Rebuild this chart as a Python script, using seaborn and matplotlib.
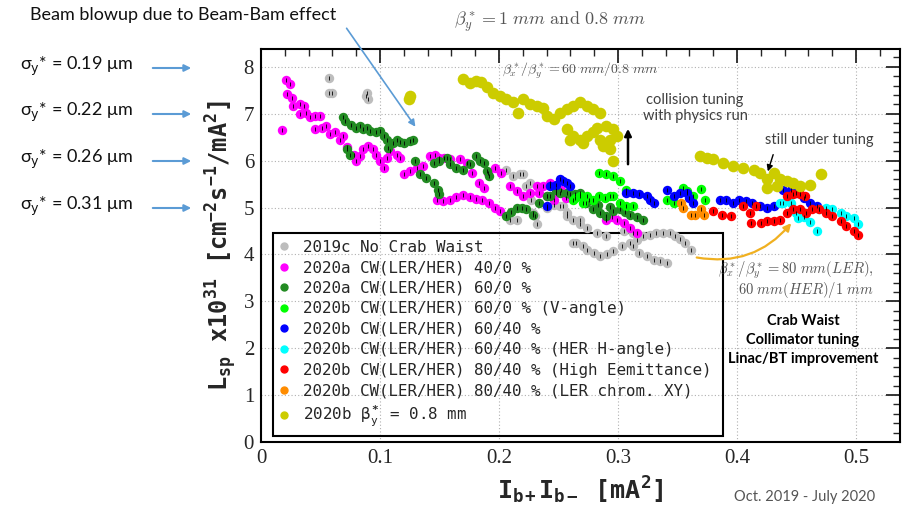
import numpy as np
import pandas as pd
import matplotlib
matplotlib.use("Agg")
import matplotlib.pyplot as plt
import seaborn as sns
from matplotlib.lines import Line2D
from matplotlib.patches import Rectangle
from matplotlib.font_manager import FontProperties
from matplotlib.ticker import MultipleLocator

# ---------------- data ----------------
labels = [
    "2019c No Crab Waist",
    "2020a CW(LER/HER) 40/0 %",
    "2020a CW(LER/HER) 60/0 %",
    "2020b CW(LER/HER) 60/0 % (V-angle)",
    "2020b CW(LER/HER) 60/40 %",
    "2020b CW(LER/HER) 60/40 % (HER H-angle)",
    "2020b CW(LER/HER) 80/40 % (High Eemittance)",
    "2020b CW(LER/HER) 80/40 % (LER chrom. XY)",
    r"2020b β$_y^*$ = 0.8 mm",
]
colors = ["#bdbdbd", "#ff00ff", "#228b22", "#00ff00", "#0000ff",
          "#00ffff", "#ff0000", "#ff8c00", "#cccc00"]

gray_x = [0.057, 0.057, 0.060, 0.089, 0.090, 0.088,
          0.206, 0.212, 0.218, 0.220, 0.223, 0.226, 0.227, 0.229, 0.230, 0.232, 0.209, 0.215,
          0.240, 0.246, 0.251, 0.254, 0.257, 0.257, 0.262, 0.268, 0.268, 0.274, 0.282, 0.290,
          0.262, 0.265, 0.271, 0.274, 0.280, 0.285, 0.291, 0.296, 0.303, 0.310, 0.316, 0.321,
          0.327, 0.332, 0.338, 0.344, 0.348, 0.352, 0.356, 0.361,
          0.313, 0.318, 0.324, 0.330, 0.335, 0.341, 0.305, 0.313]
gray_y = [7.77, 7.45, 7.45, 7.45, 7.31, 7.38,
          5.81, 5.67, 5.71, 5.71, 5.46, 5.53, 5.17, 4.89, 4.81, 4.64, 4.74, 4.74,
          5.00, 5.06, 5.03, 5.03, 4.89, 4.81, 4.74, 4.74, 4.64, 4.57, 4.46, 4.39,
          4.24, 4.24, 4.17, 4.10, 4.03, 3.96, 4.00, 4.07, 4.17, 4.24, 4.31, 4.39,
          4.42, 4.46, 4.46, 4.46, 4.39, 4.32, 4.24, 4.10,
          4.17, 4.03, 3.96, 3.89, 3.85, 3.82, 4.50, 4.46]

mag_x = [0.018, 0.021, 0.024, 0.022, 0.026, 0.027, 0.033, 0.036, 0.033, 0.038, 0.041, 0.045,
         0.050, 0.045, 0.051, 0.055, 0.058, 0.062, 0.066, 0.069, 0.072, 0.078, 0.080, 0.083,
         0.086, 0.090, 0.094, 0.097, 0.100, 0.103, 0.106, 0.108, 0.114, 0.117,
         0.120, 0.125, 0.131, 0.136, 0.142, 0.146, 0.150, 0.154, 0.159, 0.167, 0.173, 0.177,
         0.183, 0.187, 0.191, 0.197, 0.202, 0.209, 0.215, 0.220, 0.226, 0.232, 0.237, 0.243,
         0.248, 0.234, 0.240, 0.246,
         0.148, 0.153, 0.159, 0.164, 0.170, 0.176, 0.181, 0.186, 0.192, 0.197, 0.201,
         0.252, 0.256, 0.290, 0.295, 0.299, 0.305, 0.310, 0.316]
mag_y = [6.65, 7.72, 7.63, 7.41, 7.34, 7.16, 7.20, 7.17, 6.99, 7.02, 6.92, 6.95,
         6.95, 6.67, 6.70, 6.74, 6.56, 6.60, 6.45, 6.52, 6.30, 6.13, 5.99, 6.10,
         6.24, 6.31, 6.24, 6.13, 5.99, 5.85, 6.06, 6.20, 6.13, 6.06,
         5.71, 5.78, 5.85, 5.88, 6.10, 6.13, 6.06, 6.06, 6.04, 6.03, 5.95, 5.74,
         5.53, 5.42, 5.74, 5.85, 5.74, 5.46, 5.35, 5.24, 5.31, 5.46, 5.46, 5.53,
         5.31, 5.31, 5.24, 5.17,
         5.17, 5.13, 5.17, 5.22, 5.26, 5.22, 5.19, 5.15, 5.10, 5.00, 4.92,
         5.38, 5.20, 4.74, 4.80, 4.74, 4.67, 4.57, 4.46]

grn_x = [0.069, 0.071, 0.076, 0.080, 0.083, 0.086, 0.089, 0.092, 0.097, 0.100, 0.103, 0.106,
         0.072, 0.075, 0.107, 0.111, 0.114, 0.117, 0.120, 0.125, 0.128,
         0.129, 0.134, 0.139, 0.145, 0.149, 0.150,
         0.145, 0.150, 0.156, 0.159, 0.164, 0.170, 0.176, 0.181, 0.184, 0.187, 0.190, 0.192,
         0.206, 0.210, 0.215, 0.219, 0.223, 0.229, 0.234, 0.240, 0.243, 0.248, 0.251, 0.257,
         0.260, 0.264, 0.268, 0.273, 0.276, 0.279, 0.285, 0.290, 0.296, 0.302, 0.306, 0.310,
         0.316, 0.321, 0.283, 0.293]
grn_y = [6.94, 6.85, 6.77, 6.70, 6.74, 6.67, 6.70, 6.63, 6.60, 6.63, 6.52, 6.45,
         6.24, 6.13, 6.27, 6.38, 6.45, 6.40, 6.38, 6.42, 6.45,
         5.99, 5.71, 5.63, 5.53, 5.38, 5.28,
         5.95, 5.99, 6.06, 5.92, 5.85, 5.81, 5.92, 6.10, 6.00, 5.95, 5.78, 5.67,
         4.81, 4.90, 4.99, 5.00, 4.96, 4.85, 5.10, 5.24, 5.24, 5.38, 5.31, 5.31,
         5.28, 5.28, 5.31, 5.10, 5.17, 4.96, 4.89, 4.81, 4.92, 4.96, 4.90, 4.85,
         4.80, 4.74, 5.05, 5.02]

lime_x = [0.262, 0.264, 0.268, 0.271, 0.274, 0.279, 0.284, 0.289, 0.293, 0.296, 0.302, 0.307,
          0.313, 0.284, 0.290, 0.296, 0.302, 0.307, 0.341, 0.347, 0.355, 0.358, 0.363, 0.370,
          0.373]
lime_y = [5.17, 5.21, 5.24, 5.10, 5.24, 5.17, 5.24, 5.20, 5.24, 5.24, 5.10, 5.03,
          5.03, 5.74, 5.71, 5.67, 5.56, 5.38, 5.17, 5.10, 5.42, 5.35, 5.24, 5.40,
          5.17]

blue_x = [0.240, 0.243, 0.248, 0.254, 0.257, 0.260, 0.251,
          0.307, 0.313, 0.318, 0.324, 0.330, 0.327,
          0.341, 0.347, 0.352, 0.358, 0.363, 0.360,
          0.386, 0.391, 0.397, 0.402, 0.408, 0.413, 0.419, 0.425, 0.431, 0.439, 0.445, 0.450,
          0.456, 0.461, 0.467]
blue_y = [5.03, 5.46, 5.49, 5.56, 5.53, 5.46, 5.60,
          5.31, 5.31, 5.28, 5.24, 5.10, 5.17,
          5.38, 5.24, 5.31, 5.31, 5.10, 5.20,
          5.17, 5.17, 5.10, 5.17, 5.14, 5.10, 5.03, 4.99, 5.03, 5.38, 5.38, 5.31,
          5.21, 5.10, 5.03]

cyan_x = [0.436, 0.439, 0.445, 0.450, 0.451, 0.456, 0.461, 0.467, 0.469, 0.475, 0.480, 0.487,
          0.492, 0.498, 0.502]
cyan_y = [5.10, 5.10, 5.10, 4.89, 4.78, 4.80, 4.70, 4.49, 4.96, 4.98, 4.96, 4.89,
          4.81, 4.78, 4.64]

red_x = [0.380, 0.387, 0.395, 0.405, 0.411, 0.412, 0.416, 0.420, 0.425, 0.431, 0.436, 0.442,
         0.447, 0.453, 0.458, 0.442, 0.447, 0.453, 0.457, 0.463, 0.469, 0.475, 0.480, 0.487,
         0.492, 0.498, 0.502]
red_y = [4.92, 4.85, 4.81, 5.03, 4.89, 4.67, 5.03, 4.67, 4.71, 4.71, 4.74, 4.89,
         4.96, 4.96, 4.89, 5.24, 5.28, 5.28, 5.24, 4.96, 4.96, 4.89, 4.81, 4.71,
         4.60, 4.49, 4.42]

orng_x = [0.353, 0.355, 0.361, 0.365, 0.370, 0.372]
orng_y = [5.10, 4.99, 4.85, 4.85, 4.96, 4.85]

yel_x = [0.124, 0.125,
         0.170, 0.176, 0.181, 0.185, 0.190, 0.195, 0.201, 0.206, 0.212, 0.216, 0.220, 0.226,
         0.232, 0.237, 0.240, 0.246, 0.251, 0.257, 0.262, 0.268, 0.274, 0.279, 0.285, 0.290,
         0.296, 0.299, 0.293, 0.287, 0.293, 0.296, 0.279, 0.274, 0.268, 0.262, 0.257, 0.260,
         0.271, 0.285, 0.282,
         0.369, 0.375, 0.380, 0.388, 0.397, 0.405, 0.414, 0.419, 0.425, 0.431, 0.436, 0.442,
         0.447, 0.453, 0.461, 0.471, 0.425, 0.434]
yel_y = [7.31, 7.38,
         7.73, 7.65, 7.70, 7.67, 7.56, 7.45, 7.38, 7.31, 7.24, 7.02, 7.31, 7.20,
         7.17, 7.13, 6.95, 6.88, 7.02, 7.09, 7.17, 7.24, 7.17, 7.09, 7.02, 6.74,
         6.67, 6.52, 6.45, 6.31, 6.24, 5.99, 6.60, 6.52, 6.45, 6.52, 6.67, 6.45,
         6.38, 6.45, 6.70,
         6.10, 6.05, 6.03, 5.95, 5.88, 5.85, 5.81, 5.74, 5.60, 5.74, 5.60, 5.56,
         5.53, 5.46, 5.49, 5.71, 5.42, 5.46]

series_x = [gray_x, mag_x, grn_x, lime_x, blue_x, cyan_x, red_x, orng_x, yel_x]
series_y = [gray_y, mag_y, grn_y, lime_y, blue_y, cyan_y, red_y, orng_y, yel_y]

frames = []
for lab, xs, ys in zip(labels, series_x, series_y):
    frames.append(pd.DataFrame({"x": xs, "y": ys, "run": lab}))
df = pd.concat(frames, ignore_index=True)

# ---------------- style ----------------
sns.set_style("white")
plt.rcParams.update({
    "mathtext.fontset": "custom",
    "mathtext.rm": "DejaVu Sans Mono:bold",
    "mathtext.bf": "DejaVu Sans Mono:bold",
    "mathtext.it": "DejaVu Sans Mono",
    "mathtext.sf": "DejaVu Sans Mono",
})

W, H = 909, 508
fig = plt.figure(figsize=(W / 100, H / 100), dpi=100)
ax = fig.add_axes([261 / W, 1 - 442 / H, (900 - 261) / W, (442 - 49) / H])

def P(x, y):
    return (x / W, 1 - y / H)

palette = dict(zip(labels, colors))
for lab in labels:
    sub = df[df["run"] == lab]
    s = 70 if lab == labels[-1] else 46
    sns.scatterplot(data=sub, x="x", y="y", color=palette[lab], s=s,
                    linewidth=0, ax=ax, legend=False, zorder=3)
    if lab != labels[-1]:
        sns.scatterplot(data=sub, x="x", y="y", color="black", marker="|", s=5,
                        linewidth=0.6, ax=ax, legend=False, zorder=4)

ax.set_xlim(0, 0.537)
ax.set_ylim(0, 8.38)
ax.xaxis.set_minor_locator(MultipleLocator(0.02))
ax.yaxis.set_minor_locator(MultipleLocator(0.2))
ax.set_xticks([0, 0.1, 0.2, 0.3, 0.4, 0.5])
ax.set_xticklabels(["0", "0.1", "0.2", "0.3", "0.4", "0.5"])
ax.set_yticks(range(0, 9))
ax.set_yticklabels([str(i) for i in range(0, 9)])
ax.tick_params(which="major", direction="in", top=True, right=True, length=10,
               width=1.3, labelsize=15, pad=5)
ax.tick_params(which="minor", direction="in", top=True, right=True, length=5, width=1.0)
for t in ax.get_xticklabels() + ax.get_yticklabels():
    t.set_fontfamily("Liberation Serif")
ax.grid(True, which="major", linestyle=(0, (1, 2)), color="#b0b0b0", lw=0.8, zorder=0)
for sp in ax.spines.values():
    sp.set_linewidth(1.5)
    sp.set_color("black")

ax.set_xlabel(r"I$_{\mathrm{b+}}$I$_{\mathrm{b-}}$ [mA$^{\mathrm{2}}$]",
              family="DejaVu Sans Mono", weight="bold", fontsize=18, labelpad=5)
ax.set_ylabel(r"L$_{\mathrm{sp}}$ x10$^{\mathrm{31}}$ [cm$^{\mathrm{-2}}$s$^{\mathrm{-1}}$/mA$^{\mathrm{2}}$]",
              family="DejaVu Sans Mono", weight="bold", fontsize=17, labelpad=3)

# legend frame (transparent, drawn beneath the data like in the reference)
lx0, ly0 = (273 - 261) / 639, (442 - 436) / 393
lx1, ly1 = (723 - 261) / 639, (442 - 233) / 393
ax.add_patch(Rectangle((lx0, ly0), lx1 - lx0, ly1 - ly0, transform=ax.transAxes,
                       facecolor="none", edgecolor="black", lw=1.5, zorder=2))
handles = [Line2D([], [], marker="o", ls="", color=c, markersize=5) for c in colors]
leg = ax.legend(handles, labels, loc="upper left", bbox_to_anchor=(lx0, ly1),
                prop=FontProperties(family="DejaVu Sans Mono", size=11.4),
                frameon=False, borderpad=0.42, labelspacing=0.35, handlelength=0.6,
                handletextpad=0.9, borderaxespad=0)
leg.set_zorder(2)

# ---------------- annotations ----------------
blue = "#5b9bd5"
fig.text(*P(30, 15), "Beam blowup due to Beam-Bam effect", family="Lato", fontsize=13,
         va="center", ha="left", color="#111111")
ax.annotate("", xy=P(417, 129), xytext=P(345, 26), xycoords="figure fraction",
            textcoords="figure fraction", annotation_clip=False,
            arrowprops=dict(arrowstyle="-|>", color=blue, lw=1.2, mutation_scale=10))
for yy, val in zip([66, 112, 159, 206], ["0.19", "0.22", "0.26", "0.31"]):
    fig.text(*P(20, yy), r"σ$_\mathrm{y}$* = " + val + " μm", family="Lato", fontsize=13,
             va="center", ha="left", color="#111111", math_fontfamily="dejavusans")
    ax.annotate("", xy=P(194, yy + 2), xytext=P(150, yy + 2), xycoords="figure fraction",
                textcoords="figure fraction", annotation_clip=False,
                arrowprops=dict(arrowstyle="-|>", color=blue, lw=1.5, mutation_scale=10))

gcol = "#555555"
fig.text(*P(550, 22), r"$\beta_y^*=1\ mm\ \mathrm{and}\ 0.8\ mm$", fontsize=13,
         math_fontfamily="cm", ha="center", va="center", color=gcol)
fig.text(*P(580, 71), r"$\beta_x^*/\beta_y^*=60\ mm/0.8\ mm$", fontsize=10,
         math_fontfamily="cm", ha="center", va="center", color=gcol)
fig.text(*P(695, 108), "collision tuning\nwith physics run", family="Lato", fontsize=10.5,
         ha="center", va="center", color="#404040", linespacing=1.2)
ax.annotate("", xy=P(628, 126), xytext=P(628, 167), xycoords="figure fraction",
            textcoords="figure fraction", annotation_clip=False,
            arrowprops=dict(arrowstyle="-|>", color="black", lw=1.8, mutation_scale=10))
fig.text(*P(819, 140), "still under tuning", family="Lato", fontsize=10.5,
         ha="center", va="center", color="#404040")
ax.annotate("", xy=P(767, 174), xytext=P(774, 152), xycoords="figure fraction",
            textcoords="figure fraction", annotation_clip=False,
            arrowprops=dict(arrowstyle="-|>", color="black", lw=1.0, mutation_scale=9))
ax.annotate("", xy=P(793, 221), xytext=P(694, 257), xycoords="figure fraction",
            textcoords="figure fraction", annotation_clip=False,
            arrowprops=dict(arrowstyle="-|>", color="#f0b020", lw=1.6, mutation_scale=11,
                            connectionstyle="arc3,rad=0.3"))
fig.text(*P(874, 270), r"$\beta_x^*/\beta_y^*=80\ mm(LER),$", fontsize=10.5,
         math_fontfamily="cm", ha="right", va="center", color=gcol)
fig.text(*P(874, 290), r"$60\ mm(HER)/1\ mm$", fontsize=10.5,
         math_fontfamily="cm", ha="right", va="center", color=gcol)
fig.text(*P(803, 340), "Crab Waist\nCollimator tuning\nLinac/BT improvement", family="Lato",
         weight="bold", fontsize=10.5, ha="center", va="center", color="black",
         linespacing=1.45)
fig.text(*P(805, 497), "Oct. 2019 - July 2020", family="Lato", fontsize=10.5,
         ha="center", va="center", color="#555555")

fig.savefig("out.png", dpi=100)
